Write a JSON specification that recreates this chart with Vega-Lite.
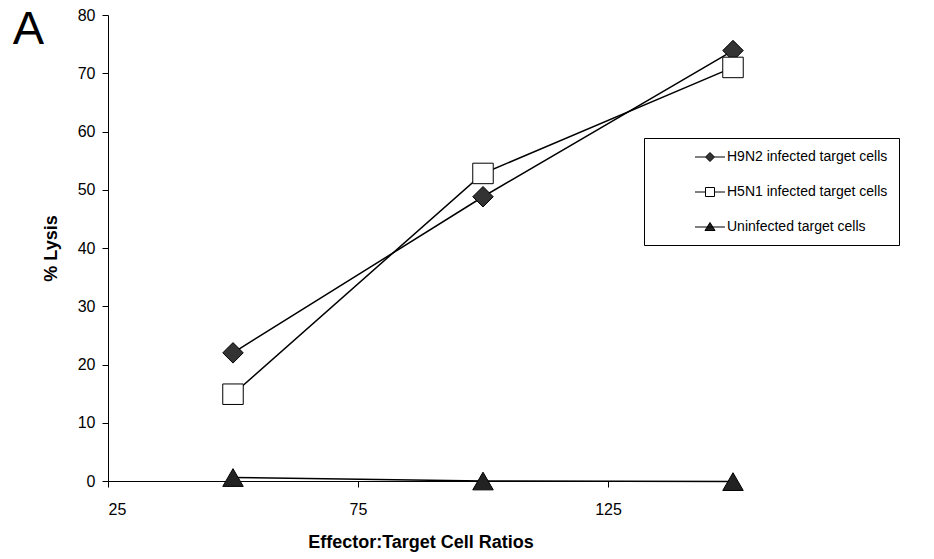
{
  "$schema": "https://vega.github.io/schema/vega-lite/v6.json",
  "width": 625,
  "height": 466,
  "autosize": {"type": "none"},
  "padding": {"left": 108, "top": 15, "right": 201, "bottom": 78},
  "background": "white",
  "title": {"text": "A", "anchor": "end", "frame": "group", "orient": "left", "angle": 0, "align": "left", "fontSize": 47, "font": "Liberation Sans", "fontWeight": "normal", "color": "black", "baseline": "top", "offset": -2, "dy": -8},
  "data": {
    "values": [
      {"ratio": 50, "lysis": 22.0, "series": "H9N2 infected target cells"},
      {"ratio": 100, "lysis": 48.8, "series": "H9N2 infected target cells"},
      {"ratio": 150, "lysis": 73.9, "series": "H9N2 infected target cells"},
      {"ratio": 50, "lysis": 14.9, "series": "H5N1 infected target cells"},
      {"ratio": 100, "lysis": 52.8, "series": "H5N1 infected target cells"},
      {"ratio": 150, "lysis": 71.0, "series": "H5N1 infected target cells"},
      {"ratio": 50, "lysis": 0.6, "series": "Uninfected target cells"},
      {"ratio": 100, "lysis": 0.0, "series": "Uninfected target cells"},
      {"ratio": 150, "lysis": -0.1, "series": "Uninfected target cells"}
    ]
  },
  "encoding": {
    "x": {
      "field": "ratio", "type": "quantitative",
      "scale": {"domain": [25, 150], "nice": false, "zero": false},
      "axis": {"title": "Effector:Target Cell Ratios", "values": [25, 75, 125], "grid": false, "domainColor": "black", "tickColor": "black", "tickSize": 6, "labelFontSize": 16, "labelColor": "black", "labelPadding": 14, "labelFont": "Liberation Sans", "titleFont": "Liberation Sans", "titleFontSize": 18, "titleFontWeight": "bold", "titleColor": "black", "titlePadding": 16}
    },
    "y": {
      "field": "lysis", "type": "quantitative",
      "scale": {"domain": [0, 80], "nice": false},
      "axis": {"title": "% Lysis", "values": [0, 10, 20, 30, 40, 50, 60, 70, 80], "grid": false, "domainColor": "black", "tickColor": "black", "tickSize": 6, "labelFontSize": 16, "labelColor": "black", "labelPadding": 7, "labelFont": "Liberation Sans", "titleFont": "Liberation Sans", "titleFontSize": 18, "titleFontWeight": "bold", "titleColor": "black", "titlePadding": 17}
    }
  },
  "layer": [
    {
      "mark": {"type": "line", "color": "black", "strokeWidth": 1.5, "clip": false},
      "encoding": {"detail": {"field": "series"}}
    },
    {
      "transform": [{"filter": {"field": "series", "equal": "H9N2 infected target cells"}}],
      "mark": {"type": "point", "shape": "diamond", "filled": true, "fill": "#333333", "stroke": "black", "strokeWidth": 1, "size": 420, "opacity": 1, "clip": false}
    },
    {
      "transform": [{"filter": {"field": "series", "equal": "H5N1 infected target cells"}}],
      "mark": {"type": "point", "shape": "square", "filled": true, "fill": "#ffffff", "stroke": "black", "strokeWidth": 1, "size": 420, "opacity": 1, "clip": false}
    },
    {
      "transform": [{"filter": {"field": "series", "equal": "Uninfected target cells"}}],
      "mark": {"type": "point", "shape": "triangle-up", "filled": true, "fill": "#222222", "stroke": "black", "strokeWidth": 1, "size": 420, "opacity": 1, "clip": false}
    },
    {
      "transform": [{"filter": "false"}],
      "mark": {"type": "point", "filled": true, "strokeWidth": 1, "opacity": 1},
      "encoding": {
        "shape": {
          "field": "series",
          "scale": {"domain": ["H9N2 infected target cells", "H5N1 infected target cells", "Uninfected target cells"], "range": ["M-2,0H-0.6M0.6,0H2M-0.6,0L0,-0.6L0.6,0L0,0.6Z", "M-2,0H-0.6M0.6,0H2M-0.6,-0.6H0.6V0.6H-0.6Z", "M-2,0H2M0,-0.6L0.67,0.47H-0.67Z"]},
          "legend": {
            "title": null, "orient": "none", "legendX": 536, "legendY": 123,
            "strokeColor": "black", "fillColor": "white", "padding": 11, "cornerRadius": 0,
            "symbolSize": 225, "symbolStrokeWidth": 1, "symbolOffset": 47,
            "labelOffset": 9, "labelFontSize": 14, "labelFont": "Liberation Sans", "labelColor": "black", "labelBaseline": "middle", "rowPadding": 20, "labelLimit": 300
          }
        },
        "fill": {
          "field": "series",
          "scale": {"domain": ["H9N2 infected target cells", "H5N1 infected target cells", "Uninfected target cells"], "range": ["#333333", "#ffffff", "#222222"]},
          "legend": {
            "title": null, "orient": "none", "legendX": 536, "legendY": 123,
            "strokeColor": "black", "fillColor": "white", "padding": 11, "cornerRadius": 0,
            "symbolSize": 225, "symbolStrokeWidth": 1, "symbolOffset": 47,
            "labelOffset": 9, "labelFontSize": 14, "labelFont": "Liberation Sans", "labelColor": "black", "labelBaseline": "middle", "rowPadding": 20, "labelLimit": 300
          }
        },
        "stroke": {
          "field": "series",
          "scale": {"domain": ["H9N2 infected target cells", "H5N1 infected target cells", "Uninfected target cells"], "range": ["black", "black", "black"]},
          "legend": {
            "title": null, "orient": "none", "legendX": 536, "legendY": 123,
            "strokeColor": "black", "fillColor": "white", "padding": 11, "cornerRadius": 0,
            "symbolSize": 225, "symbolStrokeWidth": 1, "symbolOffset": 47,
            "labelOffset": 9, "labelFontSize": 14, "labelFont": "Liberation Sans", "labelColor": "black", "labelBaseline": "middle", "rowPadding": 20, "labelLimit": 300
          }
        }
      }
    }
  ],
  "config": {"view": {"stroke": null}, "font": "Liberation Sans"}
}
